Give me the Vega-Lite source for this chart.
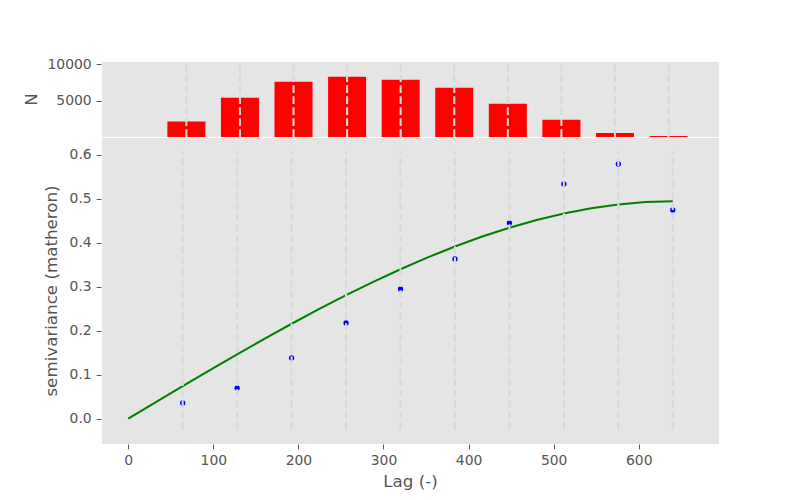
{
  "$schema": "https://vega.github.io/schema/vega-lite/v6.json",
  "padding": {"left": 22, "top": 56, "right": 5, "bottom": 5},
  "spacing": 0,
  "bounds": "flush",
  "config": {
    "font": "DejaVu Sans",
    "view": {"fill": "#E5E5E5", "stroke": "white", "strokeWidth": 1},
    "axis": {
      "grid": false,
      "domain": false,
      "tickColor": "#555555",
      "tickSize": 4.9,
      "tickWidth": 1,
      "labelPadding": 4.9,
      "labelFont": "DejaVu Sans",
      "labelFontSize": 13.9,
      "labelColor": "#555555",
      "titleFont": "DejaVu Sans",
      "titleFontSize": 16.7,
      "titleFontWeight": "normal",
      "titleColor": "#555555"
    }
  },
  "datasets": {
    "bins": [
      {"lag": 64, "count": 2115},
      {"lag": 128, "count": 5370},
      {"lag": 192, "count": 7570},
      {"lag": 256, "count": 8255},
      {"lag": 320, "count": 7840},
      {"lag": 384, "count": 6745},
      {"lag": 448, "count": 4547},
      {"lag": 512, "count": 2350},
      {"lag": 576, "count": 563},
      {"lag": 640, "count": 150}
    ],
    "experimental": [
      {"lag": 64, "semivariance": 0.0357},
      {"lag": 128, "semivariance": 0.0698},
      {"lag": 192, "semivariance": 0.138},
      {"lag": 256, "semivariance": 0.2175},
      {"lag": 320, "semivariance": 0.2948},
      {"lag": 384, "semivariance": 0.363},
      {"lag": 448, "semivariance": 0.4448},
      {"lag": 512, "semivariance": 0.5334},
      {"lag": 576, "semivariance": 0.5789},
      {"lag": 640, "semivariance": 0.4743}
    ],
    "model": [
      {"lag": 0, "semivariance": 0},
      {"lag": 32, "semivariance": 0.03702},
      {"lag": 64, "semivariance": 0.07385},
      {"lag": 96, "semivariance": 0.11031},
      {"lag": 128, "semivariance": 0.14622},
      {"lag": 160, "semivariance": 0.18139},
      {"lag": 192, "semivariance": 0.21563},
      {"lag": 224, "semivariance": 0.24876},
      {"lag": 256, "semivariance": 0.28059},
      {"lag": 288, "semivariance": 0.31094},
      {"lag": 320, "semivariance": 0.33963},
      {"lag": 352, "semivariance": 0.36645},
      {"lag": 384, "semivariance": 0.39125},
      {"lag": 416, "semivariance": 0.41382},
      {"lag": 448, "semivariance": 0.43398},
      {"lag": 480, "semivariance": 0.45155},
      {"lag": 512, "semivariance": 0.46634},
      {"lag": 544, "semivariance": 0.47816},
      {"lag": 576, "semivariance": 0.48684},
      {"lag": 608, "semivariance": 0.49218},
      {"lag": 640, "semivariance": 0.494}
    ]
  },
  "vconcat": [
    {
      "width": 618,
      "height": 76,
      "layer": [
        {
          "data": {"name": "bins"},
          "mark": {"type": "bar", "color": "#FF0000", "size": 38},
          "encoding": {
            "x": {"field": "lag", "type": "quantitative", "scale": {"domain": [-32, 694.3], "nice": false, "zero": false},
                  "axis": {"values": [0, 100, 200, 300, 400, 500, 600], "labels": false, "title": null, "orient": "bottom"}},
            "y": {"field": "count", "type": "quantitative", "scale": {"domain": [0, 10420], "nice": false},
                  "axis": {"values": [5000, 10000], "format": "d", "title": "N", "titlePadding": 7}}
          }
        },
        {
          "data": {"name": "bins"},
          "mark": {"type": "rule", "color": "#D9D9D9", "strokeWidth": 2.08, "strokeDash": [7.7, 3.3]},
          "encoding": {
            "x": {"field": "lag", "type": "quantitative"},
            "y": {"datum": 0},
            "y2": {"datum": 10000}
          }
        }
      ]
    },
    {
      "width": 618,
      "height": 307,
      "layer": [
        {
          "data": {"name": "model"},
          "mark": {"type": "line", "color": "#008000", "strokeWidth": 2.08},
          "encoding": {
            "x": {"field": "lag", "type": "quantitative", "scale": {"domain": [-32, 694.3], "nice": false, "zero": false},
                  "axis": {"values": [0, 100, 200, 300, 400, 500, 600], "title": "Lag (-)", "titlePadding": 6}},
            "y": {"field": "semivariance", "type": "quantitative", "scale": {"domain": [-0.0575, 0.640], "nice": false, "zero": false},
                  "axis": {"values": [0, 0.1, 0.2, 0.3, 0.4, 0.5, 0.6], "format": ".1f", "title": "semivariance (matheron)", "titlePadding": 9}}
          }
        },
        {
          "data": {"name": "experimental"},
          "mark": {"type": "point", "shape": "circle", "filled": true, "color": "#0000FF", "size": 28, "opacity": 1},
          "encoding": {
            "x": {"field": "lag", "type": "quantitative"},
            "y": {"field": "semivariance", "type": "quantitative"}
          }
        },
        {
          "data": {"name": "bins"},
          "mark": {"type": "rule", "color": "#D9D9D9", "strokeWidth": 2.08, "strokeDash": [7.7, 3.3]},
          "encoding": {
            "x": {"field": "lag", "type": "quantitative"},
            "y": {"datum": -0.0258},
            "y2": {"datum": 0.6083}
          }
        }
      ]
    }
  ]
}
